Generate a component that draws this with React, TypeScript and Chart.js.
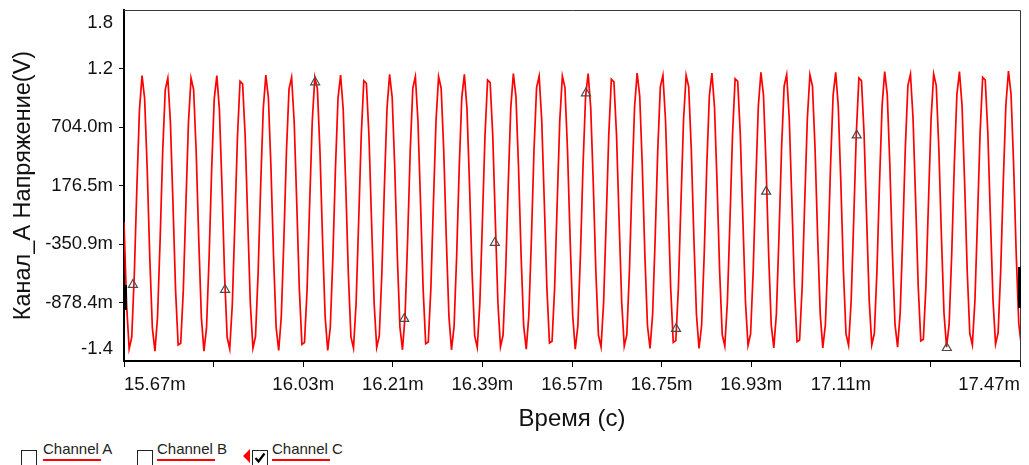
import React, { useEffect, useRef } from 'react';
import { Chart, registerables } from 'chart.js';

Chart.register(...registerables);

// ---------------- data (time in ms, voltage in V) ----------------
const timeStart = 15.67;
const timeEnd = 17.47;
const sampleStep = 0.0051802;

const xTickValues = [15.67, 15.85, 16.03, 16.21, 16.39, 16.57, 16.75, 16.93, 17.11, 17.29, 17.47];
const xTickLabels = ['15.67m', '', '16.03m', '16.21m', '16.39m', '16.57m', '16.75m', '16.93m', '17.11m', '', '17.47m'];

const yTickValues = [-1.4059, -0.8784, -0.3509, 0.1766, 0.7041, 1.2316, 1.7591];
const yTickLabels = ['-1.4', '-878.4m', '-350.9m', '176.5m', '704.0m', '1.2', '1.8'];

const channelCVolts = [
  -0.156, -0.896, -1.296, -1.192, -0.626, 0.168, 0.861, 1.167, 0.960, 0.325, -0.475, -1.110, -1.317, -1.011, -0.318, 0.476,
  1.042, 1.146, 0.746, 0.006, -0.767, -1.262, -1.246, -0.767, 0.006, 0.746, 1.146, 1.042, 0.476, -0.318, -1.011, -1.317,
  -1.110, -0.475, 0.325, 0.960, 1.167, 0.861, 0.168, -0.626, -1.192, -1.296, -0.896, -0.156, 0.617, 1.116, 1.092, 0.617,
  -0.150, -0.890, -1.290, -1.186, -0.620, 0.174, 0.867, 1.173, 0.966, 0.331, -0.469, -1.104, -1.311, -1.005, -0.312, 0.482,
  1.048, 1.152, 0.752, 0.012, -0.761, -1.256, -1.240, -0.761, 0.012, 0.752, 1.152, 1.048, 0.482, -0.312, -1.005, -1.311,
  -1.104, -0.469, 0.331, 0.966, 1.173, 0.867, 0.174, -0.620, -1.186, -1.290, -0.890, -0.150, 0.623, 1.122, 1.098, 0.623,
  -0.144, -0.884, -1.284, -1.180, -0.614, 0.180, 0.873, 1.179, 0.972, 0.337, -0.463, -1.098, -1.305, -0.999, -0.306, 0.488,
  1.054, 1.158, 0.758, 0.018, -0.755, -1.250, -1.234, -0.755, 0.018, 0.758, 1.158, 1.054, 0.488, -0.306, -0.999, -1.305,
  -1.098, -0.463, 0.337, 0.972, 1.179, 0.873, 0.180, -0.614, -1.180, -1.284, -0.884, -0.144, 0.629, 1.128, 1.104, 0.629,
  -0.138, -0.878, -1.278, -1.174, -0.608, 0.186, 0.879, 1.185, 0.978, 0.343, -0.457, -1.092, -1.299, -0.993, -0.300, 0.494,
  1.060, 1.164, 0.764, 0.024, -0.749, -1.244, -1.228, -0.749, 0.024, 0.764, 1.164, 1.060, 0.494, -0.300, -0.993, -1.299,
  -1.092, -0.457, 0.343, 0.978, 1.185, 0.879, 0.186, -0.608, -1.174, -1.278, -0.878, -0.138, 0.635, 1.134, 1.110, 0.635,
  -0.132, -0.872, -1.272, -1.168, -0.602, 0.192, 0.885, 1.191, 0.984, 0.349, -0.451, -1.086, -1.293, -0.987, -0.294, 0.500,
  1.066, 1.170, 0.770, 0.030, -0.743, -1.238, -1.222, -0.743, 0.030, 0.770, 1.170, 1.066, 0.500, -0.294, -0.987, -1.293,
  -1.086, -0.451, 0.349, 0.984, 1.191, 0.885, 0.192, -0.602, -1.168, -1.272, -0.872, -0.132, 0.641, 1.140, 1.116, 0.641,
  -0.126, -0.866, -1.266, -1.162, -0.596, 0.198, 0.891, 1.197, 0.990, 0.355, -0.445, -1.080, -1.287, -0.981, -0.288, 0.506,
  1.072, 1.176, 0.776, 0.036, -0.737, -1.232, -1.216, -0.737, 0.036, 0.776, 1.176, 1.072, 0.506, -0.288, -0.981, -1.287,
  -1.080, -0.445, 0.355, 0.990, 1.197, 0.891, 0.198, -0.596, -1.162, -1.266, -0.866, -0.126, 0.647, 1.146, 1.122, 0.647,
  -0.120, -0.860, -1.260, -1.156, -0.590, 0.204, 0.897, 1.203, 0.996, 0.361, -0.439, -1.074, -1.281, -0.975, -0.282, 0.512,
  1.078, 1.182, 0.782, 0.042, -0.731, -1.226, -1.210, -0.731, 0.042, 0.782, 1.182, 1.078, 0.512, -0.282, -0.975, -1.281,
  -1.074, -0.439, 0.361, 0.996, 1.203, 0.897, 0.204, -0.590, -1.156, -1.260, -0.860, -0.120, 0.653, 1.152, 1.128, 0.653,
  -0.114, -0.854, -1.254, -1.150, -0.584, 0.210, 0.903, 1.209, 1.002, 0.367, -0.433, -1.068, -1.275,
];

const markerTimes = [15.688, 15.873, 16.054, 16.233, 16.415, 16.598, 16.779, 16.960, 17.142, 17.323];
const markerVolts = [-0.718, -0.763, 1.108, -1.026, -0.339, 1.009, -1.116, 0.122, 0.629, -1.288];

const legendNames = ['Channel A', 'Channel B', 'Channel C'];
const legendChecked = [false, false, true];

// ---------------- layout constants ----------------
const FONT = '"Liberation Sans", Arial, sans-serif';
const CANVAS_W = 1029;
const CANVAS_H = 440;
const AREA_LEFT = 124;
const AREA_TOP = 10;
const AREA_RIGHT = 1020;
const AREA_BOTTOM = 361;

const framePlugin = {
  id: 'plotFrame',
  afterDraw(chart: any) {
    const { ctx, chartArea: a } = chart;
    ctx.save();
    ctx.strokeStyle = '#3a3a3a';
    ctx.lineWidth = 1;
    ctx.beginPath();
    ctx.moveTo(a.left, a.top + 0.5);
    ctx.lineTo(a.right + 0.5, a.top + 0.5);
    ctx.lineTo(a.right + 0.5, a.bottom);
    ctx.stroke();
    // cursor handles drawn on the left axis and right border
    ctx.fillStyle = '#000';
    ctx.fillRect(a.left, 285, 3, 25);
    ctx.fillRect(a.right - 2, 267, 3, 41);
    ctx.restore();
  },
};

export default function App() {
  const canvasRef = useRef<HTMLCanvasElement | null>(null);

  useEffect(() => {
    if (!canvasRef.current) return;
    const linePoints = channelCVolts.map((v, i) => ({ x: timeStart + i * sampleStep, y: v }));
    const markerPoints = markerTimes.map((t, i) => ({ x: t, y: markerVolts[i] }));
    const lastY = yTickValues.length - 1;

    const chart = new Chart(canvasRef.current, {
      type: 'line',
      data: {
        datasets: [
          {
            label: 'Channel C',
            data: linePoints,
            borderColor: 'rgb(255,0,0)',
            borderWidth: 1.7,
            pointRadius: 0,
            tension: 0,
            fill: false,
            clip: 0,
            order: 2,
          },
          {
            label: 'markers',
            data: markerPoints,
            showLine: false,
            pointStyle: 'triangle',
            pointRadius: 5.2,
            pointBorderWidth: 1.2,
            pointBorderColor: '#4a4a4a',
            pointBackgroundColor: 'rgba(255,255,255,0)',
            order: 1,
          },
        ],
      },
      options: {
        responsive: false,
        animation: false,
        events: [],
        layout: { padding: { left: 0, top: AREA_TOP, right: CANVAS_W - AREA_RIGHT, bottom: 0 } },
        plugins: { legend: { display: false }, tooltip: { enabled: false }, title: { display: false } },
        scales: {
          x: {
            type: 'linear',
            min: timeStart,
            max: timeEnd,
            afterBuildTicks: (s: any) => {
              s.ticks = xTickValues.map((v) => ({ value: v }));
            },
            afterFit: (s: any) => {
              s.height = CANVAS_H - AREA_BOTTOM;
              s.paddingLeft = 0;
              s.paddingRight = 0;
            },
            ticks: {
              autoSkip: false,
              maxRotation: 0,
              align: 'inner',
              padding: 7,
              color: '#111',
              font: { family: FONT, size: 18.5 },
              callback: (_v: any, i: number) => xTickLabels[i],
            },
            grid: { drawOnChartArea: false, drawTicks: true, tickLength: 6, color: '#000', lineWidth: 1 },
            border: { display: true, color: '#000', width: 2 },
            title: {
              display: true,
              text: 'Время (с)',
              color: '#111',
              font: { family: FONT, size: 24 },
              padding: { top: 0, bottom: 6 },
            },
          },
          y: {
            type: 'linear',
            min: yTickValues[0],
            max: yTickValues[lastY],
            afterBuildTicks: (s: any) => {
              s.ticks = yTickValues.map((v) => ({ value: v }));
            },
            afterFit: (s: any) => {
              s.width = AREA_LEFT;
              s.paddingTop = 0;
              s.paddingBottom = 0;
            },
            ticks: {
              autoSkip: false,
              padding: 6,
              color: '#111',
              font: (ctx: any) => ({
                family: FONT,
                size: 18.5,
                lineHeight: ctx.index === 0 ? 1.3 : ctx.index === lastY ? 1.4 : 1.2,
              }),
              callback: (_v: any, i: number) => {
                const lbl = yTickLabels[i];
                if (i === 0) return [lbl, ''];
                if (i === lastY) return ['', lbl];
                return lbl;
              },
            },
            grid: {
              drawOnChartArea: false,
              drawTicks: true,
              tickLength: 5,
              color: '#000',
              tickColor: (ctx: any) => (ctx.index === 0 || ctx.index === lastY ? 'rgba(0,0,0,0)' : '#000'),
            },
            border: { display: true, color: '#000', width: 2 },
            title: {
              display: true,
              text: 'Канал_A Напряжение(V)',
              color: '#111',
              font: { family: FONT, size: 23.5 },
              padding: { top: 9, bottom: 0 },
            },
          },
        },
      } as any,
      plugins: [framePlugin],
    });

    return () => chart.destroy();
  }, []);

  const boxLefts = [21, 137, 252];
  const labelLefts = [43, 157, 272];

  return (
    <div
      style={{
        position: 'fixed',
        left: 0,
        top: 0,
        width: CANVAS_W,
        height: 465,
        overflow: 'hidden',
        background: '#fff',
        fontFamily: FONT,
      }}
    >
      <canvas
        ref={canvasRef}
        width={CANVAS_W}
        height={CANVAS_H}
        style={{ position: 'absolute', left: 0, top: 0, display: 'block' }}
      />
      {legendNames.map((name, i) => (
        <React.Fragment key={name}>
          <div
            style={{
              position: 'absolute',
              left: boxLefts[i],
              top: 450,
              width: 14,
              height: 14,
              border: '1px solid #222',
              background: '#fff',
            }}
          >
            {legendChecked[i] && (
              <svg width="14" height="14" style={{ display: 'block' }}>
                <polyline points="2.5,7 5.5,10.5 11.5,2.5" fill="none" stroke="#000" strokeWidth="2.2" />
              </svg>
            )}
          </div>
          <div
            style={{
              position: 'absolute',
              left: labelLefts[i],
              top: 441,
              fontSize: 15,
              lineHeight: '15px',
              color: '#222',
              whiteSpace: 'nowrap',
            }}
          >
            {name}
          </div>
          <div
            style={{
              position: 'absolute',
              left: labelLefts[i],
              top: 459,
              width: 58,
              height: 2,
              background: 'rgb(255,0,0)',
            }}
          />
        </React.Fragment>
      ))}
      <div
        style={{
          position: 'absolute',
          left: 243,
          top: 449,
          width: 0,
          height: 0,
          borderTop: '7px solid transparent',
          borderBottom: '7px solid transparent',
          borderRight: '7px solid rgb(255,0,0)',
        }}
      />
    </div>
  );
}
